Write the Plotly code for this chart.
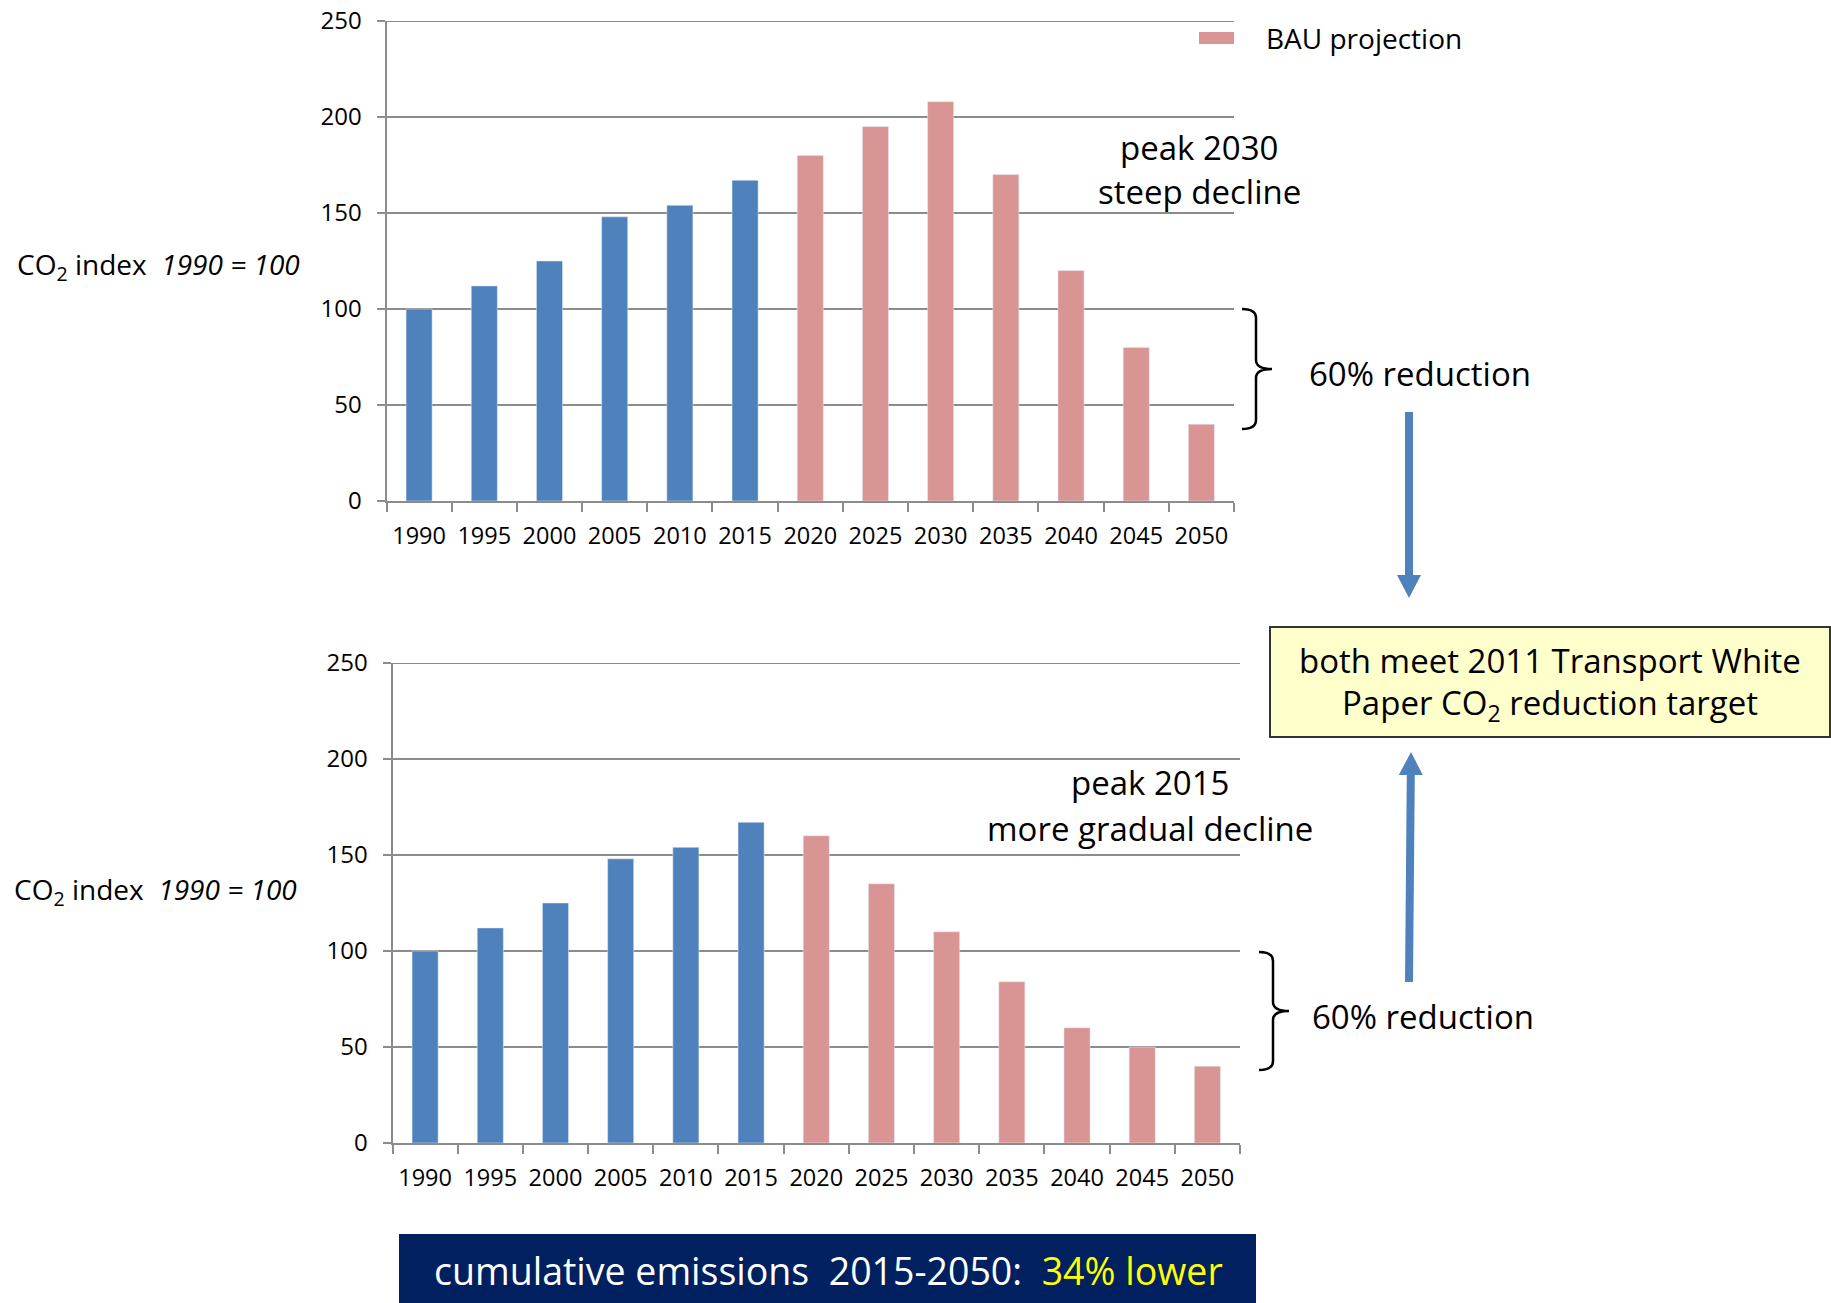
import plotly.graph_objects as go

# Years on the category axis
years = ["1990", "1995", "2000", "2005", "2010", "2015", "2020",
         "2025", "2030", "2035", "2040", "2045", "2050"]
hist_years = years[:6]
proj_years = years[6:]

# Historical CO2 index (1990 = 100)
hist_values = [100, 112, 125, 148, 154, 167]

# Business-as-usual path: peak 2030, steep decline
bau_values = [180, 195, 208, 170, 120, 80, 40]

# Alternative path: peak 2015, more gradual decline
alt_values = [160, 135, 110, 84, 60, 50, 40]

y_ticks = [0, 50, 100, 150, 200, 250]

W, H = 1831, 1303
BLUE = "#4F81BD"
PINK = "#D99594"
GRID = "#8C8C8C"
FONT = "'Open Sans', Lato, sans-serif"


def px(x):
    return x / W


def py(y):
    return 1 - y / H


fig = go.Figure()

# top panel
fig.add_trace(go.Bar(x=hist_years, y=hist_values, marker_color=BLUE,
                     showlegend=False, xaxis="x", yaxis="y"))
fig.add_trace(go.Bar(x=proj_years, y=bau_values, marker_color=PINK,
                     name="BAU projection", showlegend=False,
                     xaxis="x", yaxis="y"))
# bottom panel
fig.add_trace(go.Bar(x=hist_years, y=hist_values, marker_color=BLUE,
                     showlegend=False, xaxis="x2", yaxis="y2"))
fig.add_trace(go.Bar(x=proj_years, y=alt_values, marker_color=PINK,
                     showlegend=False, xaxis="x2", yaxis="y2"))

xax = dict(type="category", categoryorder="array", categoryarray=years,
           tickson="boundaries", ticks="outside", ticklen=9, tickwidth=2,
           tickcolor=GRID, showline=True, linecolor=GRID, linewidth=2,
           showgrid=False, automargin=False,
           tickfont=dict(family=FONT, size=23.5, color="black"),
           ticklabelstandoff=13, fixedrange=True)
yax = dict(range=[0, 250], tickvals=y_ticks, showgrid=True, gridcolor=GRID,
           gridwidth=2, ticks="outside", ticklen=8, tickwidth=2,
           tickcolor=GRID, showline=True, linecolor=GRID, linewidth=2,
           zeroline=False, automargin=False,
           tickfont=dict(family=FONT, size=24, color="black"),
           ticklabelstandoff=10, fixedrange=True)

fig.update_layout(
    width=W, height=H,
    margin=dict(l=0, r=0, t=0, b=0, pad=0),
    paper_bgcolor="white", plot_bgcolor="white",
    barmode="overlay", bargap=0.6, showlegend=False,
    font=dict(family=FONT, color="black"),
    xaxis=dict(xax, domain=[px(386.5), px(1234)], anchor="y"),
    yaxis=dict(yax, domain=[py(501), py(21)], anchor="x"),
    xaxis2=dict(xax, domain=[px(392.5), px(1240)], anchor="y2"),
    yaxis2=dict(yax, domain=[py(1143), py(663)], anchor="x2"),
)

shapes = []
annotations = []

# top gridline at the range maximum of each panel
for xr, yr in [("x", "y"), ("x2", "y2")]:
    shapes.append(dict(type="line", xref=f"{xr} domain", yref=yr,
                       x0=0, x1=1, y0=y_ticks[-1], y1=y_ticks[-1],
                       line=dict(color=GRID, width=2), layer="below"))


def text(x, y, s, size, xanchor="center", color="black"):
    annotations.append(dict(xref="paper", yref="paper", x=px(x), y=py(y),
                            text=s, showarrow=False, xanchor=xanchor,
                            yanchor="middle",
                            font=dict(family=FONT, size=size, color=color)))


# legend swatch and label
shapes.append(dict(type="rect", xref="paper", yref="paper",
                   x0=px(1199), x1=px(1234), y0=py(44), y1=py(32),
                   fillcolor=PINK, line=dict(width=0)))
text(1264, 38, "BAU projection", 28, xanchor="left")

# axis titles
ylabel = "CO<sub>2</sub> index  <i>1990 = 100</i>"
text(15, 266, ylabel, 28, xanchor="left")
text(12, 891, ylabel, 28, xanchor="left")

# panel notes
text(1199, 147, "peak 2030", 33)
text(1199, 191, "steep decline", 33)
text(1150, 782, "peak 2015", 33)
text(1150, 828, "more gradual decline", 33)
text(1307, 374, "60% reduction", 33, xanchor="left")
text(1310, 1016, "60% reduction", 33, xanchor="left")


def brace(x0, xm, xt, y0, ym, y1):
    r = 9
    path = (f"M {px(x0)},{py(y0)} Q {px(xm)},{py(y0)} {px(xm)},{py(y0 + r)} "
            f"L {px(xm)},{py(ym - r)} Q {px(xm)},{py(ym)} {px(xt)},{py(ym)} "
            f"Q {px(xm)},{py(ym)} {px(xm)},{py(ym + r)} "
            f"L {px(xm)},{py(y1 - r)} Q {px(xm)},{py(y1)} {px(x0)},{py(y1)}")
    shapes.append(dict(type="path", xref="paper", yref="paper", path=path,
                       line=dict(color="black", width=2.5)))


brace(1242, 1256, 1272, 309, 369, 429)
brace(1259, 1273, 1289, 952, 1011, 1070)

# target box
shapes.append(dict(type="rect", xref="paper", yref="paper",
                   x0=px(1270), x1=px(1830), y0=py(737), y1=py(627),
                   fillcolor="#FFFFCC", line=dict(color="#333333", width=2)))
text(1550, 660, "both meet 2011 Transport White", 33)
text(1550, 704, "Paper CO<sub>2</sub> reduction target", 33)


def arrow(x0, y0, x1, y1, head_len=23, head_half=12):
    """Block arrow from (x0, y0) to tip (x1, y1), pixel coordinates."""
    d = 1 if y1 > y0 else -1
    by = y1 - d * head_len
    bx = x0 + (x1 - x0) * (by - y0) / (y1 - y0)
    shapes.append(dict(type="line", xref="paper", yref="paper",
                       x0=px(x0), y0=py(y0), x1=px(bx), y1=py(by),
                       line=dict(color=BLUE, width=8)))
    path = (f"M {px(bx - head_half)},{py(by)} L {px(bx + head_half)},{py(by)} "
            f"L {px(x1)},{py(y1)} Z")
    shapes.append(dict(type="path", xref="paper", yref="paper", path=path,
                       fillcolor=BLUE, line=dict(width=0)))


# arrows pointing to the target box
arrow(1409, 412, 1409, 598)
arrow(1409, 982, 1411, 752)

# cumulative emissions banner
shapes.append(dict(type="rect", xref="paper", yref="paper",
                   x0=px(399), x1=px(1256), y0=py(1303), y1=py(1234),
                   fillcolor="#002060", line=dict(width=0)))
text(828, 1270, "cumulative emissions  2015-2050:  "
     "<span style='color:#FFFF00'>34% lower</span>", 37.5, color="white")

fig.update_layout(shapes=shapes, annotations=annotations)
fig.write_html("out.html")
